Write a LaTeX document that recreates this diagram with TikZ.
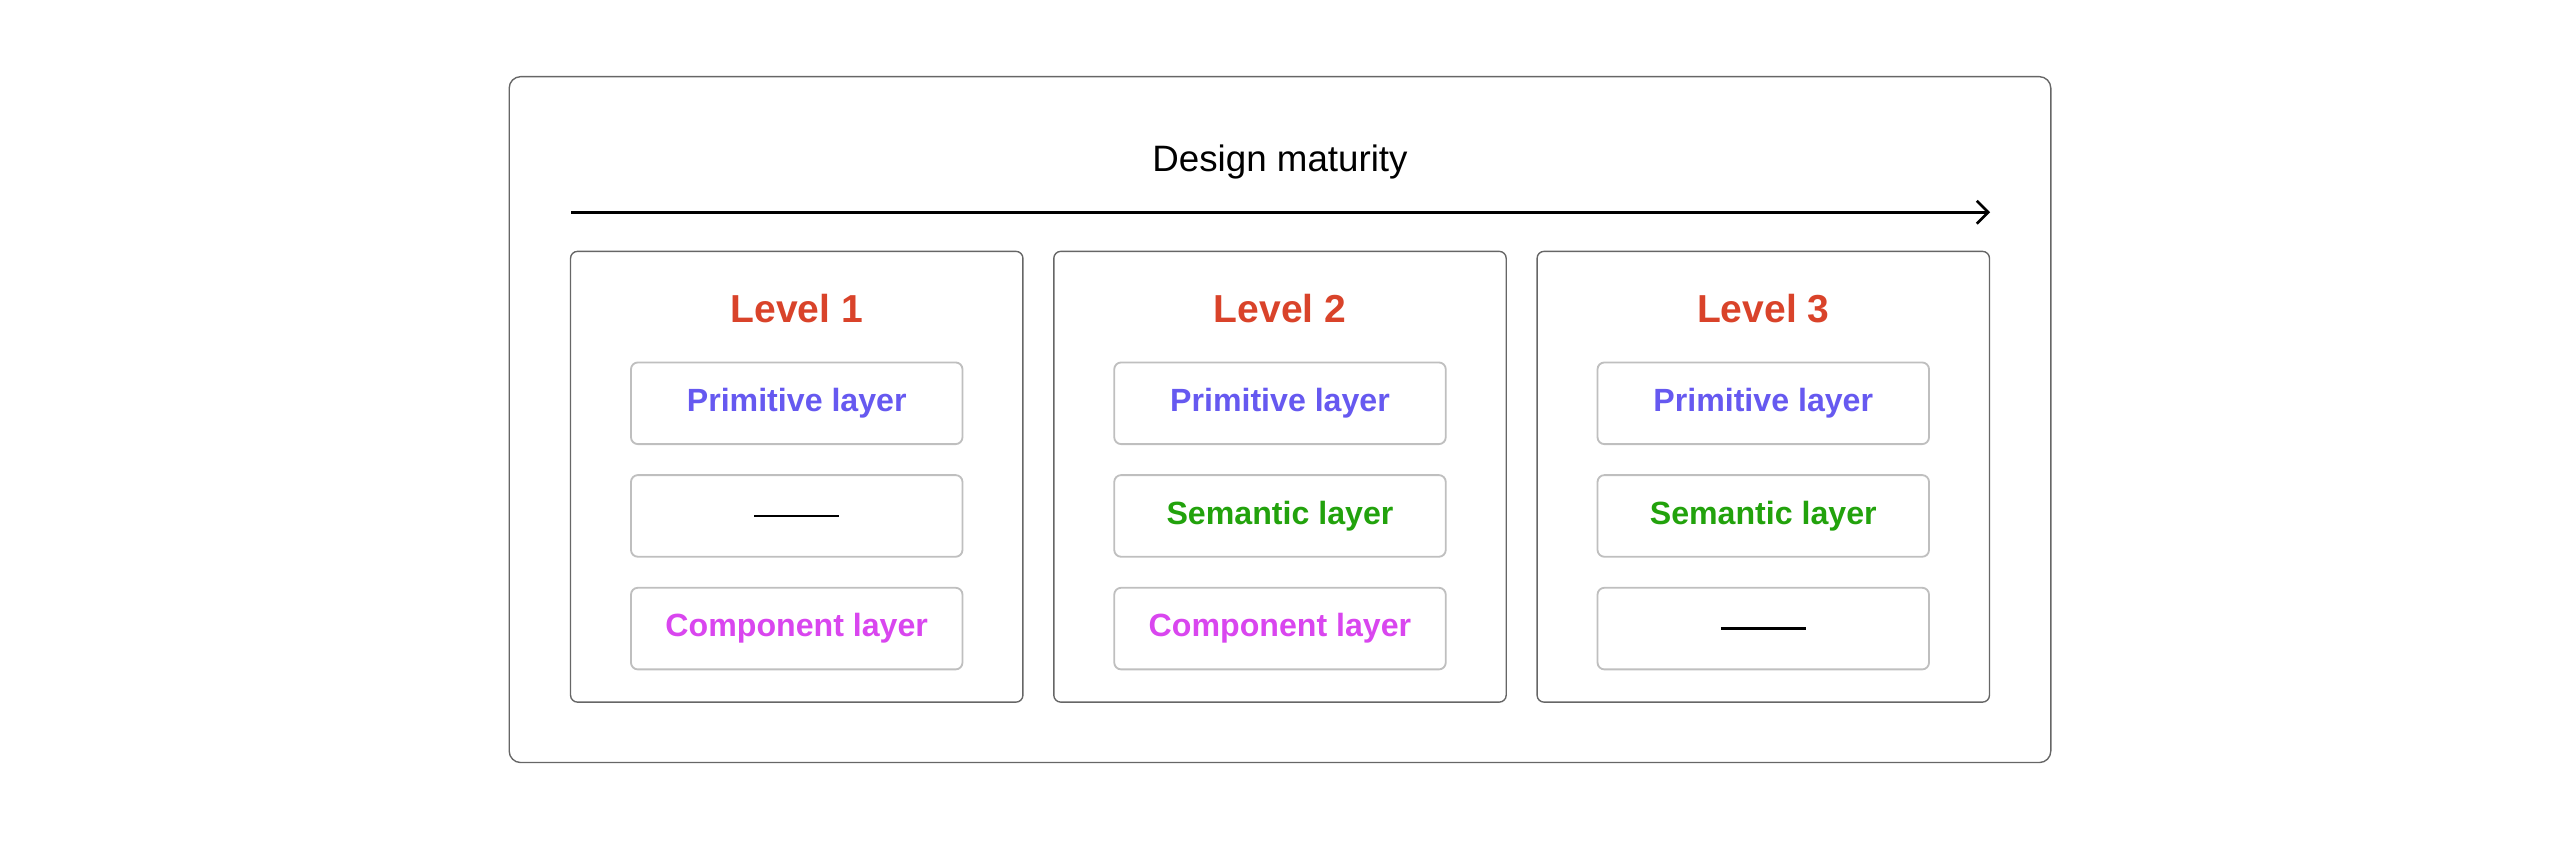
\documentclass[tikz,border=0pt]{standalone}
\usepackage{fontspec}
\setmainfont{Liberation Sans}
\usetikzlibrary{positioning,arrows.meta}
\definecolor{levelred}{HTML}{D9432A}
\definecolor{primcol}{HTML}{6659F0}
\definecolor{semcol}{HTML}{22A20C}
\definecolor{compcol}{HTML}{D946EF}
\tikzset{
  levelbox/.style={draw=black!60,rounded corners=3pt,minimum width=6.925cm,minimum height=6.9cm,line width=0.6pt},
  layerbox/.style={draw=black!25,rounded corners=3pt,minimum width=5.075cm,minimum height=1.25cm,line width=0.8pt,font=\fontsize{14}{16}\selectfont\bfseries},
  leveltitle/.style={text=levelred,font=\fontsize{17}{20}\selectfont\bfseries}
}
\begin{document}
\begin{tikzpicture}[x=0.025cm,y=-0.025cm]
\useasboundingbox (0,0) rectangle (1568,516);
\node[draw=black!60,rounded corners=5pt,line width=0.6pt,minimum width=23.6cm,minimum height=10.5cm] (frame) at (784,257) {};
\node[font=\fontsize{16}{19}\selectfont] (title) at (784,99) {Design maturity};
\coordinate (a0) at (350,130);
\coordinate (a1) at (1219,130);
\draw[-{Straight Barb[length=5pt,width=10pt]},line width=1.2pt] (a0) -- (a1);

% levels
\foreach \i/\x in {1/488,2/784,3/1080}{
  \node[levelbox] (lv\i) at (\x,292) {};
  \node[leveltitle] (lt\i) at (\x,189) {Level \i};
  \node[layerbox,text=primcol] (p\i) at (\x,247) {Primitive layer};
}
\node[layerbox] (s1) at (488,316) {};
\draw[line width=1.2pt] ([xshift=-0.65cm]s1.center) -- ([xshift=0.65cm]s1.center);
\node[layerbox,text=semcol] (s2) at (784,316) {Semantic layer};
\node[layerbox,text=semcol] (s3) at (1080,316) {Semantic layer};
\node[layerbox,text=compcol] (c1) at (488,385) {Component layer};
\node[layerbox,text=compcol] (c2) at (784,385) {Component layer};
\node[layerbox] (c3) at (1080,385) {};
\draw[line width=1.2pt] ([xshift=-0.65cm]c3.center) -- ([xshift=0.65cm]c3.center);
\end{tikzpicture}
\end{document}
